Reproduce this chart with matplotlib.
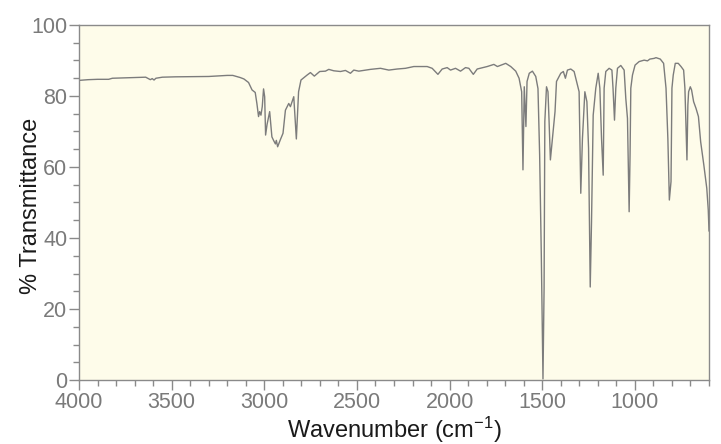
import matplotlib
matplotlib.use("Agg")
import matplotlib.pyplot as plt
from matplotlib.ticker import MultipleLocator

wavenumber = [4000, 3950, 3900, 3840, 3820, 3700, 3640, 3615, 3605, 3595, 3585, 3550, 3480, 3300,
              3200, 3170, 3130, 3110, 3085, 3066, 3049, 3040, 3031, 3025, 3018, 3011, 3004, 2998,
              2993, 2985, 2971, 2959, 2950, 2940, 2935, 2928, 2920, 2914, 2899, 2886, 2868, 2859,
              2841, 2833, 2827, 2820, 2815, 2802, 2769, 2751, 2730, 2701, 2670, 2652, 2625, 2589,
              2562, 2535, 2517, 2490, 2454, 2427, 2373, 2328, 2283, 2238, 2193, 2121, 2094, 2063,
              2040, 2013, 1995, 1968, 1941, 1914, 1896, 1872, 1851, 1797, 1761, 1742, 1697, 1670,
              1643, 1625, 1611, 1604, 1597, 1588, 1582, 1570, 1553, 1535, 1523, 1514, 1505, 1496,
              1490, 1486, 1477, 1469, 1463, 1456, 1445, 1431, 1423, 1400, 1386, 1375, 1364, 1346,
              1328, 1310, 1301, 1292, 1283, 1270, 1259, 1250, 1241, 1234, 1225, 1211, 1198, 1189,
              1180, 1171, 1166, 1157, 1139, 1124, 1118, 1110, 1103, 1094, 1076, 1058, 1049, 1040,
              1035, 1031, 1026, 1022, 1013, 999, 977, 950, 932, 919, 896, 886, 863, 845, 832, 822,
              814, 805, 800, 793, 782, 766, 751, 737, 730, 724, 719, 714, 710, 701, 694, 683, 670,
              657, 645, 628, 612, 604, 600]
transmittance = [84.4, 84.6, 84.7, 84.7, 85.0, 85.2, 85.3, 84.6, 84.9, 84.5, 85.0, 85.3, 85.4, 85.5,
                 85.8, 85.8, 85.2, 84.8, 83.8, 81.7, 81.0, 77.9, 74.2, 75.6, 74.6, 77.0, 82.0, 79.8,
                 69.0, 72.0, 75.6, 68.5, 67.5, 66.5, 67.5, 65.7, 66.8, 67.6, 69.5, 76.0, 77.9, 77.0,
                 79.8, 73.0, 67.9, 76.0, 81.2, 84.5, 85.9, 86.6, 85.6, 86.9, 87.0, 87.5, 87.1, 86.9,
                 87.2, 86.4, 87.3, 87.0, 87.3, 87.5, 87.8, 87.3, 87.6, 87.8, 88.3, 88.3, 87.8, 86.1,
                 87.6, 88.0, 87.3, 87.8, 87.0, 88.0, 87.8, 86.1, 87.6, 88.3, 88.9, 88.3, 89.2, 88.3,
                 87.0, 85.0, 81.2, 59.2, 82.6, 71.4, 84.1, 86.4, 87.0, 85.5, 82.1, 63.4, 35.2, 0.3,
                 25.9, 72.8, 82.6, 81.2, 72.8, 62.0, 68.0, 75.6, 84.1, 86.4, 86.9, 85.0, 87.3, 87.6,
                 86.9, 83.1, 81.2, 52.6, 68.0, 81.2, 78.4, 65.3, 26.2, 44.6, 74.6, 82.2, 86.4, 82.2,
                 68.0, 57.7, 82.2, 86.9, 87.8, 87.3, 82.2, 73.2, 82.2, 87.8, 88.6, 87.3, 79.3, 73.7,
                 58.7, 47.4, 63.4, 82.2, 85.9, 88.7, 89.7, 90.1, 89.9, 90.4, 90.6, 90.8, 90.4, 89.2, 82.2, 68.0,
                 50.7, 55.9, 82.2, 85.9, 89.2, 89.2, 88.3, 87.3, 82.2, 70.9, 62.0, 77.5, 81.2, 82.6, 81.7, 78.4, 76.5,
                 74.2, 67.1, 60.6, 54.0, 47.9, 42.0]

x_ticks = [4000, 3500, 3000, 2500, 2000, 1500, 1000]
y_ticks = [0, 20, 40, 60, 80, 100]

plt.rcParams['font.family'] = ['Liberation Sans', 'DejaVu Sans']
plt.rcParams['mathtext.fontset'] = 'custom'
plt.rcParams['mathtext.rm'] = 'Liberation Sans'
plt.rcParams['mathtext.it'] = 'Liberation Sans'
plt.rcParams['mathtext.default'] = 'regular'

fig = plt.figure(figsize=(7.21, 4.44), dpi=100)
ax = fig.add_axes([79 / 721, 64 / 444, 630 / 721, 355 / 444])
ax.set_facecolor('#FEFCEA')
ax.plot(wavenumber, transmittance, color='#7c7c7c', linewidth=1.0)

ax.set_xlim(4000, 600)
ax.set_ylim(0, 100)
ax.set_xticks(x_ticks)
ax.set_yticks(y_ticks)
ax.xaxis.set_minor_locator(MultipleLocator(100))
ax.yaxis.set_minor_locator(MultipleLocator(5))

gray = '#8a8a8a'
for s in ax.spines.values():
    s.set_color(gray)
    s.set_linewidth(1.0)
ax.tick_params(which='major', direction='out', length=7, width=1, color=gray,
               labelcolor='#7a7a7a', labelsize=15.5, pad=1.5)
ax.tick_params(which='minor', direction='out', length=4, width=1, color=gray)

ax.set_xlabel('Wavenumber (cm$^{\u22121}$)', fontsize=17, color='#1a1a1a')
ax.set_ylabel('% Transmittance', fontsize=17, color='#1a1a1a')
ax.xaxis.set_label_coords(0.5, -0.098)
ax.yaxis.set_label_coords(-0.059, 0.49)

fig.savefig('out.png', dpi=100)
